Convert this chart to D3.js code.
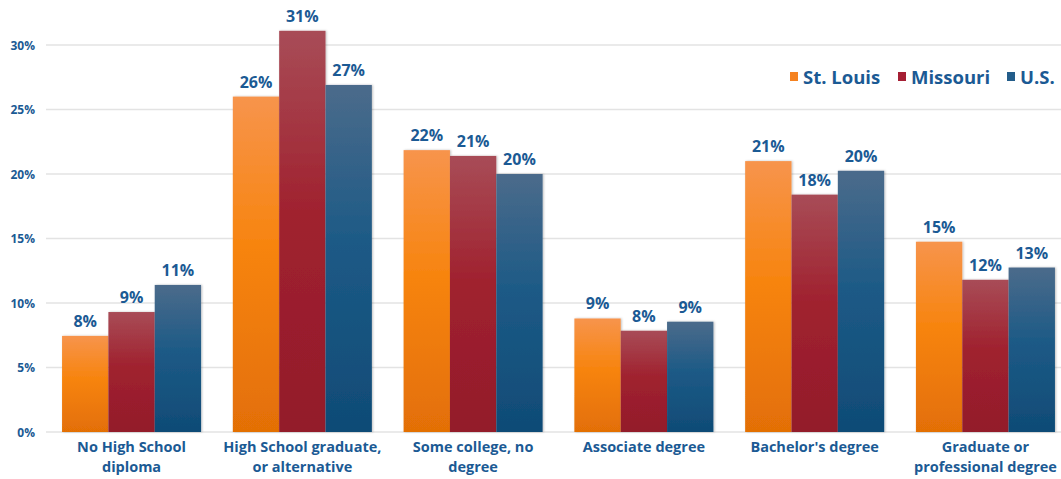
<!DOCTYPE html>
<html><head><meta charset="utf-8">
<script src="https://cdn.jsdelivr.net/npm/d3@7"></script>
<style>
html,body{margin:0;padding:0;background:#fff;}
svg text{font-family:"Open Sans","Noto Sans",sans-serif;font-weight:700;fill:#1b5a94;}
</style></head>
<body><svg id="c" width="1061" height="479"></svg>
<script>
const categories = [["No High School","diploma"],["High School graduate,","or alternative"],["Some college, no","degree"],["Associate degree"],["Bachelor's degree"],["Graduate or","professional degree"]];
const seriesNames = ["St. Louis","Missouri","U.S."];
const stLouis = [7.45, 26.0, 21.85, 8.8, 21.0, 14.75];
const missouri = [9.3, 31.1, 21.4, 7.85, 18.4, 11.8];
const us = [11.4, 26.9, 20.0, 8.55, 20.25, 12.75];
const stLouisLabels = ["8%","26%","22%","9%","21%","15%"];
const missouriLabels = ["9%","31%","21%","8%","18%","12%"];
const usLabels = ["11%","27%","20%","9%","20%","13%"];
const yTicks = [0,5,10,15,20,25,30];

const series = [
  {name:seriesNames[0], values:stLouis, labels:stLouisLabels, grad:"gO", legend:"#f58220", stops:["#f7944c","#f7840e","#e36f06"]},
  {name:seriesNames[1], values:missouri, labels:missouriLabels, grad:"gR", legend:"#a51f34", stops:["#a84c57","#a0222f","#931a2b"]},
  {name:seriesNames[2], values:us, labels:usLabels, grad:"gB", legend:"#235d8a", stops:["#4b6b8b","#1d5a86","#0f4b76"]}
];

const svg = d3.select("#c");
const defs = svg.append("defs");
series.forEach(s=>{
  const g = defs.append("linearGradient").attr("id",s.grad).attr("x1",0).attr("y1",0).attr("x2",0).attr("y2",1);
  g.append("stop").attr("offset","0%").attr("stop-color",s.stops[0]);
  g.append("stop").attr("offset","45%").attr("stop-color",s.stops[1]);
  g.append("stop").attr("offset","100%").attr("stop-color",s.stops[2]);
});
const f = defs.append("filter").attr("id","sh").attr("x","-10%").attr("y","-10%").attr("width","130%").attr("height","130%");
f.append("feDropShadow").attr("dx",1).attr("dy",0).attr("stdDeviation",1.2).attr("flood-color","#000").attr("flood-opacity",0.25);

const y = d3.scaleLinear().domain([0,30]).range([432,45]);
const x0 = d3.scaleBand().domain(d3.range(categories.length)).range([46,1071]).paddingInner(0.186).paddingOuter(0.094);
const x1 = d3.scaleBand().domain(d3.range(series.length)).range([0,x0.bandwidth()]);

// grid
svg.append("g").selectAll("line").data(yTicks).join("line")
  .attr("x1",46).attr("x2",1061).attr("y1",d=>y(d)).attr("y2",d=>y(d))
  .attr("stroke","#e3e3e3").attr("stroke-width",1.3);

// y axis labels
const yAxis = d3.axisLeft(y).tickValues(yTicks).tickFormat(d=>d+"%").tickSize(0).tickPadding(0);
const ya = svg.append("g").attr("transform","translate(35,0)").call(yAxis);
ya.select(".domain").remove();
ya.selectAll("text").style("font-size","12px").attr("fill","#1b5a94").attr("dy","0.35em");

// bars
series.forEach((s,si)=>{
  const g = svg.append("g");
  g.selectAll("rect").data(s.values).join("rect")
    .attr("x",(d,i)=>x0(i)+x1(si)).attr("width",x1.bandwidth())
    .attr("y",d=>y(d)).attr("height",d=>y(0)-y(d))
    .attr("fill","url(#"+s.grad+")").attr("filter","url(#sh)");
  g.selectAll("text").data(s.values).join("text")
    .attr("x",(d,i)=>x0(i)+x1(si)+x1.bandwidth()/2)
    .attr("y",d=>y(d)-9).attr("text-anchor","middle")
    .style("font-size","16px").text((d,i)=>s.labels[i]);
});

// category labels
const cl = svg.append("g");
categories.forEach((lines,i)=>{
  const t = cl.append("text").attr("text-anchor","middle").style("font-size","14.5px")
    .attr("x",x0(i)+x0.bandwidth()/2).attr("y",452);
  lines.forEach((ln,j)=>t.append("tspan").attr("x",x0(i)+x0.bandwidth()/2).attr("dy",j===0?0:20).text(ln));
});

// legend
const legX = [790, 898, 1007];
const lg = svg.append("g");
series.forEach((s,si)=>{
  lg.append("rect").attr("x",legX[si]).attr("y",72).attr("width",8).attr("height",9).attr("fill",s.legend);
  lg.append("text").attr("x",legX[si]+13).attr("y",84).style("font-size","18.5px").text(s.name);
});
</script></body></html>
